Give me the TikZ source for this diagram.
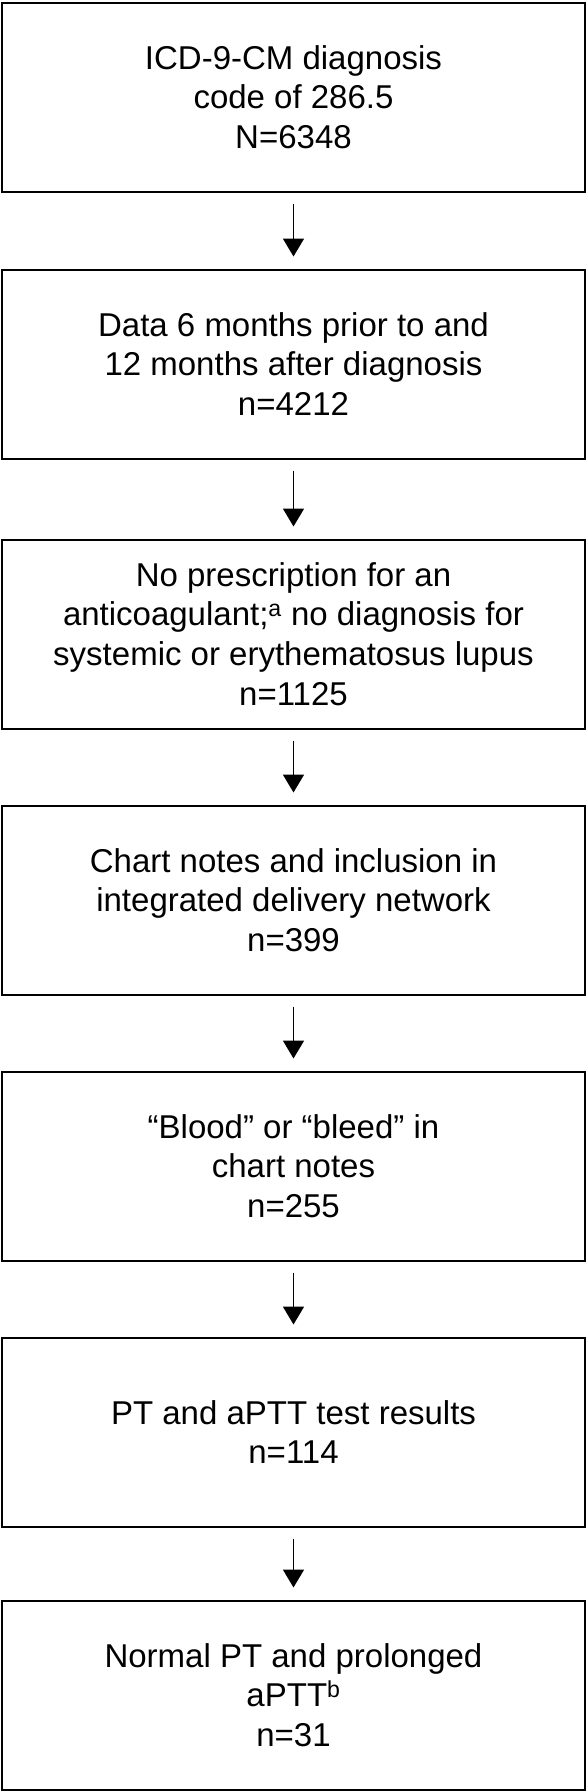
\documentclass[tikz,border=0pt]{standalone}
\usepackage{fontspec}
\setmainfont{Liberation Sans}
\usetikzlibrary{arrows.meta,positioning}

\begin{document}
\begin{tikzpicture}[x=1pt,y=-1pt]
% box and arrow styles
\tikzstyle{stage}=[rectangle,draw=black,line width=2pt,minimum width=583pt,minimum height=189pt,inner sep=0pt,align=center,font=\fontsize{33}{39.7}\selectfont]
\tikzstyle{flow}=[-{Triangle[length=18pt,width=21pt]},line width=1.8pt,shorten <=11pt,shorten >=12pt]

\useasboundingbox (0,0) rectangle (587,1792);

% boxes
\foreach \i/\y/\txt in {
  1/97/{ICD-9-CM diagnosis\\code of 286.5\\N=6348},
  2/364/{Data 6 months prior to and\\12 months after diagnosis\\n=4212},
  3/634/{No prescription for an\\anticoagulant;\textsuperscript{a} no diagnosis for\\systemic or erythematosus lupus\\n=1125},
  4/900/{Chart notes and inclusion in\\integrated delivery network\\n=399},
  5/1166/{“Blood” or “bleed” in\\chart notes\\n=255},
  6/1432/{PT and aPTT test results\\n=114},
  7/1695/{Normal PT and prolonged\\aPTT\textsuperscript{b}\\n=31}}
\node[stage] (B-\i) at (293.5,\y) {\txt};

% arrows
\foreach \from/\to in {1/2,2/3,3/4,4/5,5/6,6/7}
\draw[flow] (B-\from) -- (B-\to);
\end{tikzpicture}
\end{document}
